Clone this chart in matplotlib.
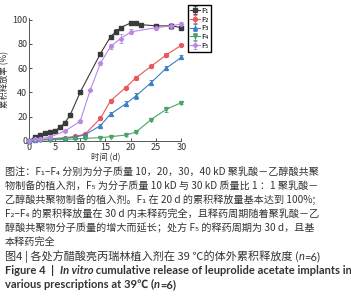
import numpy as np
import matplotlib
matplotlib.use("Agg")
import matplotlib.pyplot as plt

plt.rcParams['font.family'] = ['Noto Sans CJK SC', 'DejaVu Sans']

# data
days_f1 = [0, 1, 2, 3, 4, 5, 6, 7, 8, 10, 14, 16, 17, 18, 20, 21, 22, 25, 28, 30]
f1 = [0, 3, 5, 6, 7, 8, 11, 15, 21, 40, 72, 86, 90, 93.5, 97.5, 97, 96, 95, 95, 93.5]
f1_err = [0, 0.5, 0.5, 0.5, 0.5, 0.5, 0.8, 0.8, 1, 1.5, 1.5, 1.5, 2, 1.5, 1, 1, 0.8, 1.5, 1.5, 1]

days_f5 = [0, 1, 2, 4, 7, 10, 12, 14, 16, 18, 20, 25, 28, 30]
f5 = [0, 1, 1.5, 3, 8, 16, 42, 64, 78, 84.5, 90, 93.5, 95, 96.5]
f5_err = [0, 0.3, 0.5, 0.5, 1, 1, 1, 1.5, 2, 3.5, 2, 2, 2.5, 1.5]

days_b = [0, 1, 2, 4, 7, 9, 11, 14, 16, 19, 21, 24, 27, 30]
f2 = [0, 0.5, 1, 1.5, 2.5, 3.5, 5.5, 18.5, 33, 44, 52, 61.5, 71, 79]
f2_err = [0, 0.3, 0.3, 0.5, 0.5, 0.8, 1, 1, 1.2, 1.5, 1.5, 1, 1.5, 1]
f3 = [0, 0.5, 1, 1, 2, 3, 5, 12.5, 22, 30.5, 37, 48, 60, 69]
f3_err = [0, 0.3, 0.3, 0.5, 0.5, 0.8, 1, 1.5, 1.5, 2, 2.5, 2, 1.5, 1.5]
f4 = [0, 0.3, 0.5, 0.8, 1, 1.5, 2, 2.5, 3.3, 4.7, 7, 17.5, 26, 31.5]
f4_err = [0, 0.2, 0.2, 0.3, 0.3, 0.5, 0.5, 0.5, 0.5, 0.8, 1, 1.5, 2, 1]

labels = ['F₁', 'F₂', 'F₃', 'F₄', 'F₅']
colors = ['#3a3a3a', '#e8575a', '#3b7fc4', '#4aa566', '#b987e6']
markers = ['s', 'o', '^', 'v', 'D']

caption = [
    '图注：F₁–F₄ 分别为分子质量 10，20，30，40 kD 聚乳酸－乙醇酸共聚',
    '物制备的植入剂，F₅ 为分子质量 10 kD 与 30 kD 质量比 1 ：1 聚乳酸－',
    '乙醇酸共聚物制备的植入剂。F₁ 在 20 d 的累积释放量基本达到 100%;',
    'F₂–F₄ 的累积释放量在 30 d 内未释药完全，且释药周期随着聚乳酸－乙',
    '醇酸共聚物分子质量的增大而延长；处方 F₅ 的释药周期为 30 d，且基',
    '本释药完全',
]

fig = plt.figure(figsize=(3.51, 3.0), dpi=100)
ax = fig.add_axes([0.084, 0.531, 0.433, 0.409])

series = [(days_f1, f1, f1_err), (days_b, f2, f2_err), (days_b, f3, f3_err),
          (days_b, f4, f4_err), (days_f5, f5, f5_err)]
for (d, y, e), lab, c, m in zip(series, labels, colors, markers):
    ax.errorbar(d, y, yerr=e, color=c, marker=m, markersize=2.8 if m != 'D' else 2.2,
                lw=0.8, elinewidth=0.6, capsize=1.2, capthick=0.6, label=lab,
                clip_on=False, zorder=3)

ax.set_xlim(0, 30)
ax.set_ylim(0, 101.5)
ax.set_xticks([0, 5, 10, 15, 20, 25, 30])
ax.set_yticks([0, 20, 40, 60, 80, 100])
ax.spines['top'].set_visible(False)
ax.spines['right'].set_visible(False)
for s in ['left', 'bottom']:
    ax.spines[s].set_color('#555555')
    ax.spines[s].set_linewidth(0.7)
ax.tick_params(direction='in', length=2.5, width=0.6, labelsize=6.5,
               colors='#333333', pad=1.5)
ax.set_xlabel('时间 (d)', fontsize=6, labelpad=1, color='#333333')
ax.set_ylabel('累积释放率 (%)', fontsize=6, labelpad=2, color='#333333')

fig.legend(loc='upper left', bbox_to_anchor=(0.535, 0.985), fontsize=5.5,
           handlelength=1.3, borderpad=0.3, labelspacing=0.1, handletextpad=0.2,
           fancybox=False, edgecolor='black', framealpha=1, borderaxespad=0)

y0 = 172
step = 14
for i, line in enumerate(caption):
    fig.text(0.014, 1 - (y0 + i * step) / 300, line, fontsize=7.25, va='center',
             ha='left', color='#333333')

renderer = fig.canvas.get_renderer()


def chain(parts, ypix, size):
    # ypix is the baseline, in pixels from the top
    x = 5.0
    for txt, kw in parts:
        t = fig.text(x / 351, 1 - ypix / 300, txt, va='baseline', ha='left',
                     fontsize=size, color='#333333', **kw)
        x = t.get_window_extent(renderer).x1


cn = {'family': ['Noto Sans CJK SC', 'DejaVu Sans']}
en = {'family': ['Lato', 'Noto Sans CJK SC', 'DejaVu Sans']}
chain([('图4 | 各处方醋酸亮丙瑞林植入剂在 39 ℃的体外累积释放度 (', cn),
       ('n', dict(en, style='italic')), ('=6)', en)], y0 + 6 * step + 4, 8.0)
chain([('Figure 4  |  ', dict(en, weight='bold')),
       ('In vitro', dict(en, weight='bold', style='italic')),
       (' cumulative release of leuprolide acetate implants in', dict(en, weight='bold'))],
      y0 + 7 * step + 4, 8.0)
chain([('various prescriptions at 39℃ (', dict(en, weight='bold')),
       ('n', dict(en, weight='bold', style='italic')),
       ('=6)', dict(en, weight='bold'))], y0 + 8 * step + 4, 8.0)

fig.savefig('out.png', dpi=100)
